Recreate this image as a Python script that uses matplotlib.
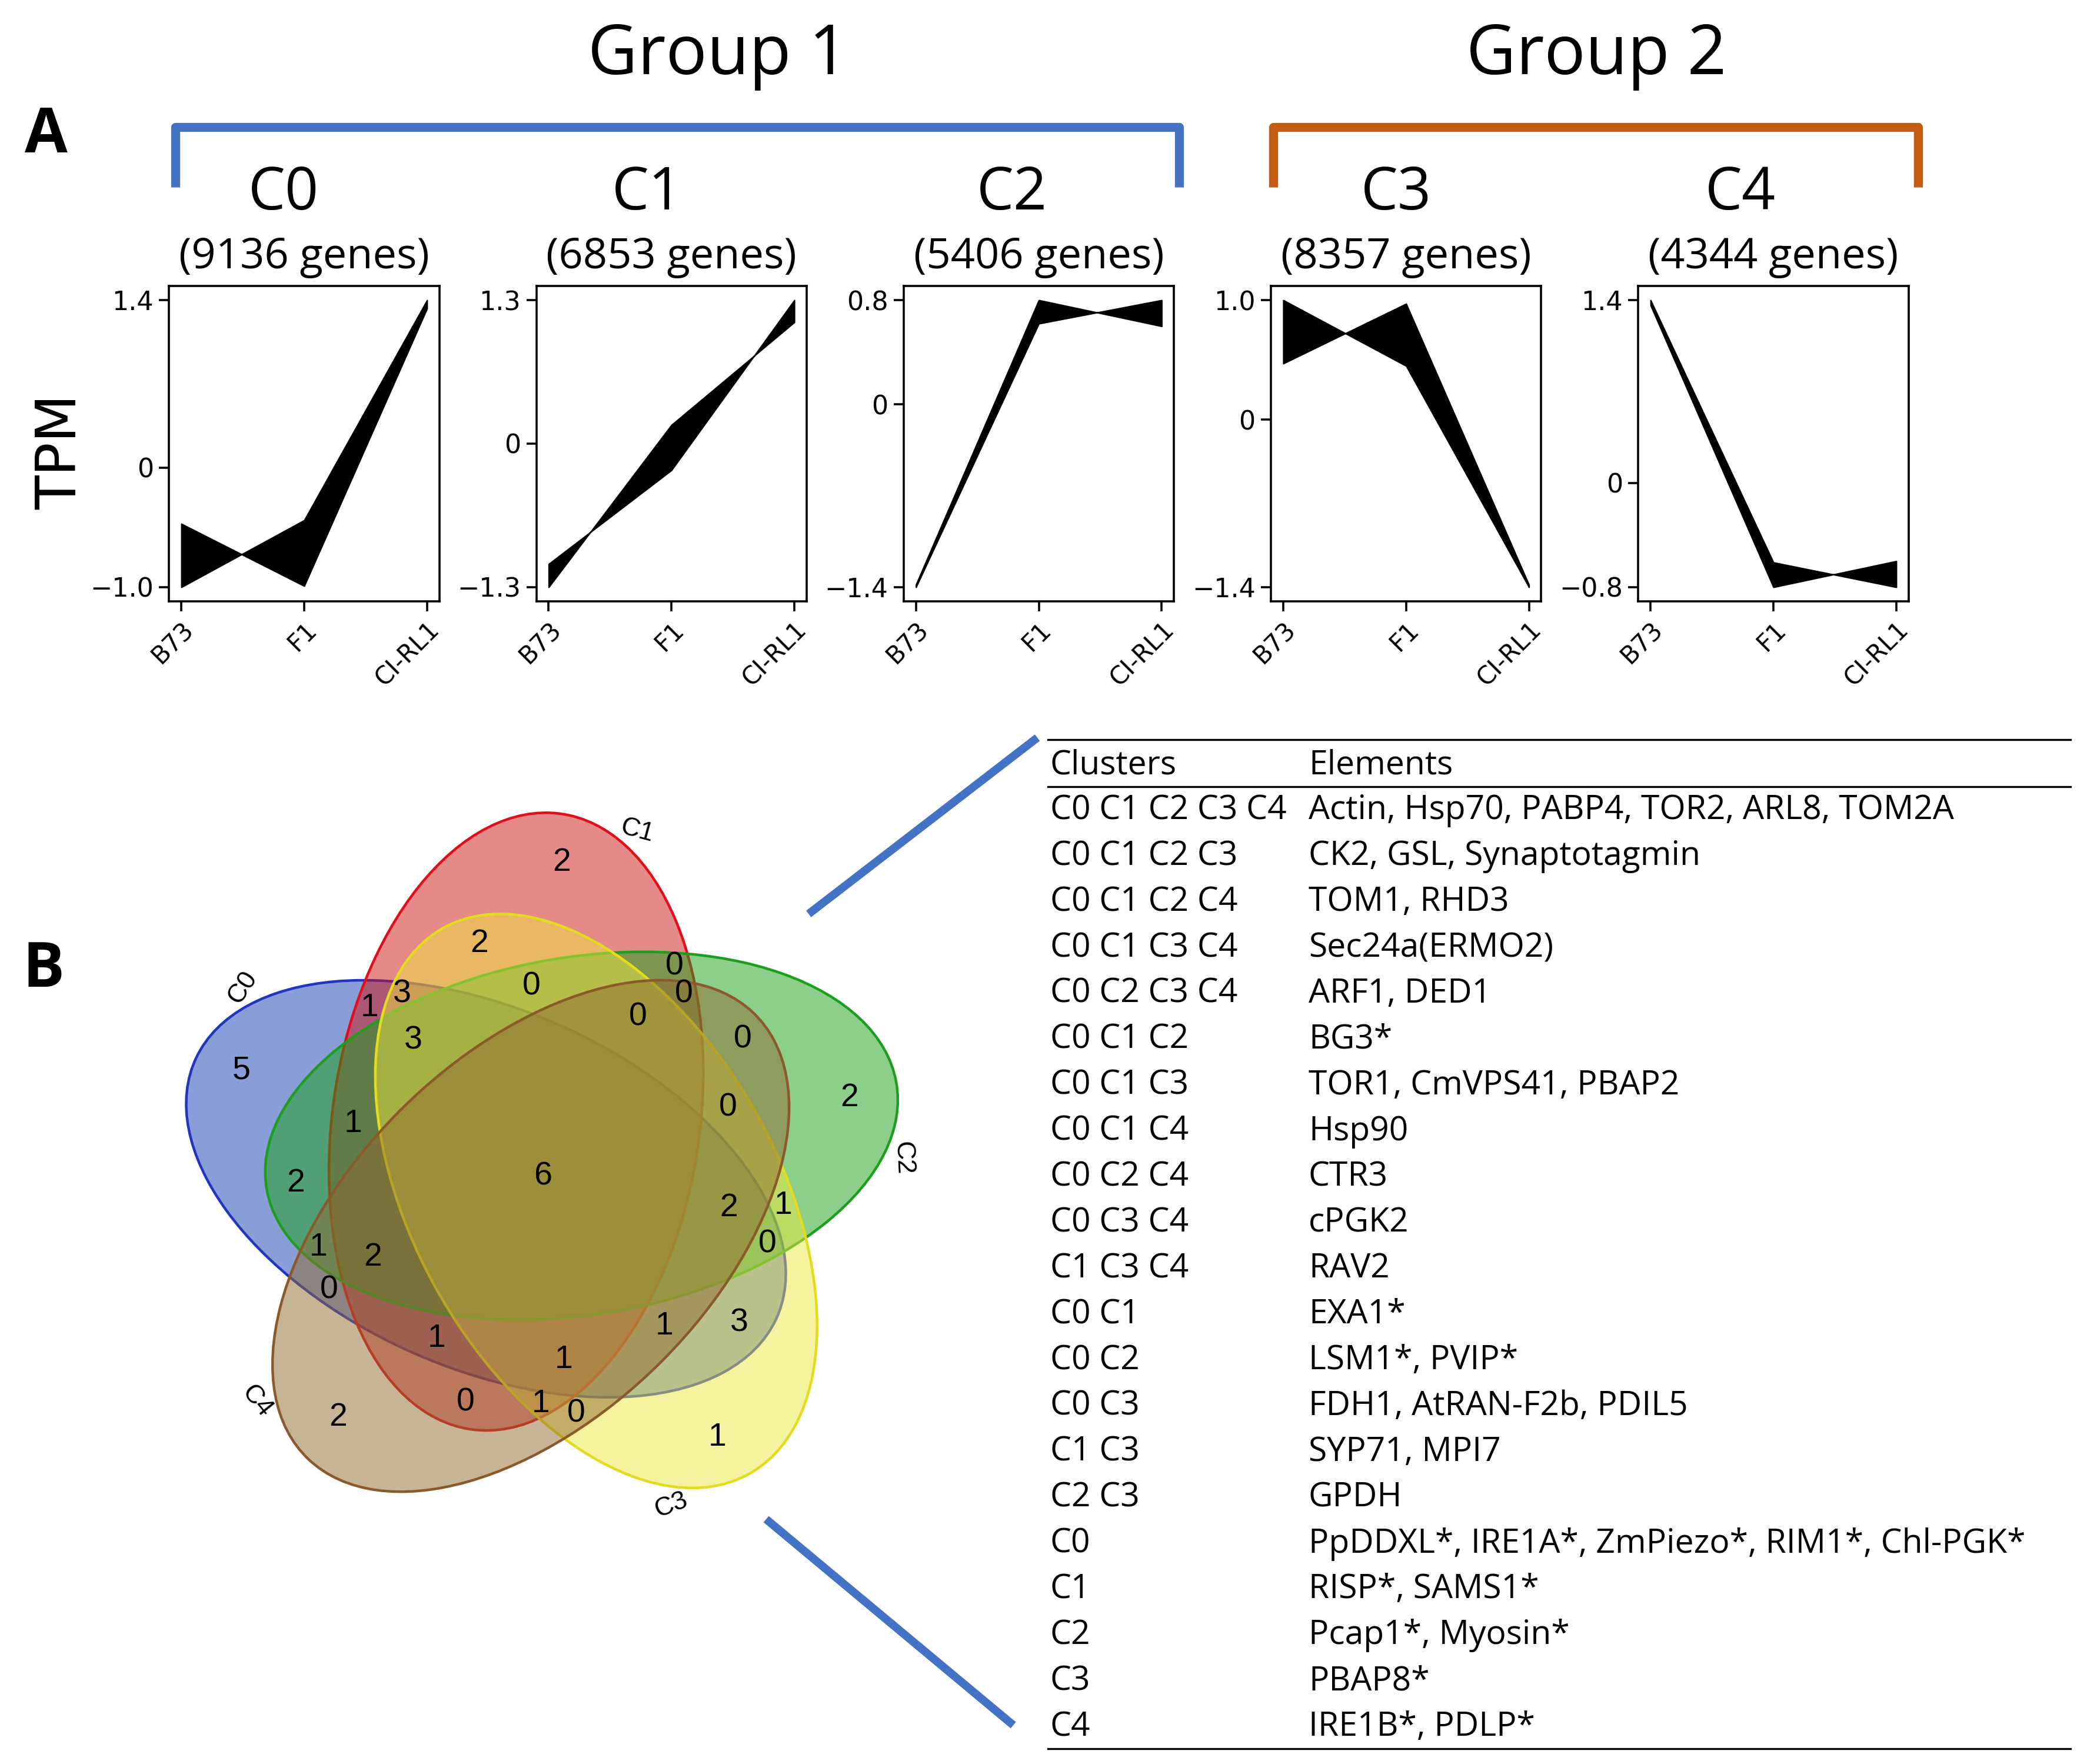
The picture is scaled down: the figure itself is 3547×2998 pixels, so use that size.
import numpy as np
import matplotlib.pyplot as plt
from matplotlib.colors import to_rgba
from matplotlib.patches import Ellipse
from matplotlib.lines import Line2D

# ---- panel A: expression profiles of the five clusters ----
conditions = ['B73', 'F1', 'CI-RL1']
cluster_names = ['C0', 'C1', 'C2', 'C3', 'C4']
cluster_genes = [9136, 6853, 5406, 8357, 4344]
# the black band is drawn between these two edges
band_a = [[-0.47, -0.99, 1.33],
          [-1.09, -0.24, 1.30],
          [-1.38, 0.80, 0.60],
          [1.00, 0.45, -1.40],
          [1.40, -0.61, -0.80]]
band_b = [[-1.00, -0.44, 1.40],
          [-1.30, 0.17, 1.10],
          [-1.40, 0.62, 0.80],
          [0.47, 0.97, -1.38],
          [1.36, -0.80, -0.60]]
ytick_vals = [[-1.0, 0, 1.4], [-1.3, 0, 1.3], [-1.4, 0, 0.8], [-1.4, 0, 1.0], [-0.8, 0, 1.4]]
ytick_labels = [['\u22121.0', '0', '1.4'], ['\u22121.3', '0', '1.3'], ['\u22121.4', '0', '0.8'],
                ['\u22121.4', '0', '1.0'], ['\u22120.8', '0', '1.4']]
group_names = ['Group 1', 'Group 2']

# ---- panel B: shared elements between clusters ----
venn_sets = ['C0', 'C1', 'C2', 'C3', 'C4']
table_clusters = ['C0 C1 C2 C3 C4', 'C0 C1 C2 C3', 'C0 C1 C2 C4', 'C0 C1 C3 C4', 'C0 C2 C3 C4',
                  'C0 C1 C2', 'C0 C1 C3', 'C0 C1 C4', 'C0 C2 C4', 'C0 C3 C4', 'C1 C3 C4',
                  'C0 C1', 'C0 C2', 'C0 C3', 'C1 C3', 'C2 C3',
                  'C0', 'C1', 'C2', 'C3', 'C4']
table_elements = ['Actin, Hsp70, PABP4, TOR2, ARL8, TOM2A',
                  'CK2, GSL, Synaptotagmin',
                  'TOM1, RHD3',
                  'Sec24a(ERMO2)',
                  'ARF1, DED1',
                  'BG3*',
                  'TOR1, CmVPS41, PBAP2',
                  'Hsp90',
                  'CTR3',
                  'cPGK2',
                  'RAV2',
                  'EXA1*',
                  'LSM1*, PVIP*',
                  'FDH1, AtRAN-F2b, PDIL5',
                  'SYP71, MPI7',
                  'GPDH',
                  'PpDDXL*, IRE1A*, ZmPiezo*, RIM1*, Chl-PGK*',
                  'RISP*, SAMS1*',
                  'Pcap1*, Myosin*',
                  'PBAP8*',
                  'IRE1B*, PDLP*']

venn_fill = ['#153DB1', '#CD1515', '#19A119', '#EBE741', '#916B31']
venn_edge = ['#2035C0', '#E0101A', '#1E9E1E', '#E2DC1C', '#8B5A2B']

# ellipse layout of a 5-set Venn
ell_cx = [0.428, 0.469, 0.558, 0.578, 0.489]
ell_cy = [0.449, 0.543, 0.523, 0.432, 0.383]
ell_ang = [155.0, 82.0, 10.0, 118.0, 46.0]
ELL_W, ELL_H = 0.87, 0.50

TXT = 'Open Sans'
BLUE = '#4472C4'
ORANGE = '#C55A11'

fig = plt.figure(figsize=(3547 / 200, 2998 / 200), dpi=200)

# ---------------- panel A ----------------
ax_left = [0.081, 0.257, 0.433, 0.609, 0.785]
ax_w, ax_b, ax_h = 0.1295, 0.659, 0.179
title_x = [0.136, 0.310, 0.485, 0.669, 0.834]

for i, name in enumerate(cluster_names):
    ax = fig.add_axes([ax_left[i], ax_b, ax_w, ax_h])
    x = np.arange(len(conditions))
    ax.fill_between(x, band_a[i], band_b[i], color='black', lw=0.8)
    ax.set_xticks(x)
    ax.set_xticklabels(conditions, rotation=45, ha='right', rotation_mode='anchor', fontsize=15)
    ax.set_yticks(ytick_vals[i])
    ax.set_yticklabels(ytick_labels[i], fontsize=16)
    ax.tick_params(length=6, width=1.3)
    for s in ax.spines.values():
        s.set_linewidth(1.3)
    fig.text(title_x[i], 0.890, name, fontsize=36, family=TXT, ha='center', va='center')
    fig.text(ax_left[i] + ax_w / 2, 0.854, f'({cluster_genes[i]} genes)', fontsize=26,
             family=TXT, ha='center', va='center')

fig.text(0.029, 0.744, 'TPM', rotation=90, fontsize=34, ha='center', va='center')
fig.text(0.022, 0.923, 'A', fontsize=38, weight='bold', family=TXT, ha='center', va='center')
fig.text(0.021, 0.450, 'B', fontsize=38, weight='bold', family=TXT, ha='center', va='center')

# group brackets
brackets = [(0.084, 0.565, BLUE), (0.610, 0.919, ORANGE)]
group_x = [0.344, 0.765]
for (x0, x1, col), gname, gx in zip(brackets, group_names, group_x):
    fig.add_artist(Line2D([x0, x0, x1, x1], [0.894, 0.928, 0.928, 0.894], color=col, lw=5.5,
                          solid_joinstyle='round', solid_capstyle='butt', transform=fig.transFigure))
    fig.text(gx, 0.968, gname, fontsize=42, family=TXT, ha='center', va='center')


# ---------------- panel B: Venn ----------------
def ellipse_field(px, py, k):
    t = np.deg2rad(ell_ang[k])
    dx, dy = px - ell_cx[k], py - ell_cy[k]
    u = dx * np.cos(t) + dy * np.sin(t)
    v = -dx * np.sin(t) + dy * np.cos(t)
    a, b = ELL_W / 2, ELL_H / 2
    f = (u / a) ** 2 + (v / b) ** 2 - 1
    grad = 2 * np.sqrt((u / a ** 2) ** 2 + (v / b ** 2) ** 2) + 1e-9
    return f, np.abs(f) / grad


gx, gy = np.meshgrid(np.linspace(-0.05, 1.05, 700), np.linspace(-0.05, 1.05, 700))
fields = [ellipse_field(gx, gy, k) for k in range(5)]
inside = np.array([f < 0 for f, _ in fields])
margin = np.min([d for _, d in fields], axis=0)
union = inside.any(axis=0)

vax = fig.add_axes([0.0878, 0.1525, 0.3436, 0.3885])
vax.set_xlim(gx[union].min() - 0.005, gx[union].max() + 0.005)
vax.set_ylim(gy[union].min() - 0.005, gy[union].max() + 0.005)
vax.axis('off')

for k in range(5):
    vax.add_patch(Ellipse((ell_cx[k], ell_cy[k]), ELL_W, ELL_H, angle=ell_ang[k],
                          facecolor=to_rgba(venn_fill[k], 0.5), edgecolor=venn_edge[k], lw=1.6))

# counts per region come from the table (regions missing from it are empty)
region_count = {c: len(e.split(', ')) for c, e in zip(table_clusters, table_elements)}
for m in range(1, 32):
    key = ' '.join(venn_sets[k] for k in range(5) if m >> (4 - k) & 1)
    mask = np.ones_like(union)
    for k in range(5):
        mask &= inside[k] if (m >> (4 - k) & 1) else ~inside[k]
    if not mask.any():
        continue
    j = np.argmax(np.where(mask, margin, -1))
    vax.text(gx.flat[j], gy.flat[j], str(region_count.get(key, 0)), fontsize=20,
             family='Liberation Sans', ha='center', va='center')

# set names just outside the outer lobe of each ellipse
vcx, vcy = np.mean(ell_cx), np.mean(ell_cy)
for k in range(5):
    alpha = np.deg2rad(155 - 72 * k - 8)
    ts = np.linspace(0, 0.8, 1600)
    f, _ = ellipse_field(vcx + ts * np.cos(alpha), vcy + ts * np.sin(alpha), k)
    t_edge = ts[np.where(f < 0)[0].max()] + 0.03
    rot = np.rad2deg(alpha) - 90
    if rot < -90:
        rot += 180
    vax.text(vcx + t_edge * np.cos(alpha), vcy + t_edge * np.sin(alpha), venn_sets[k],
             fontsize=16, family='Liberation Sans', rotation=rot, ha='center', va='center')

# ---------------- panel B: table ----------------
tl, tr = 0.502, 0.992
for y in [0.5806, 0.554, 0.0087]:
    fig.add_artist(Line2D([tl, tr], [y, y], color='black', lw=1.2, transform=fig.transFigure))
col_x = [0.5032, 0.627]
fig.text(col_x[0], 0.566, 'Clusters', fontsize=20.5, family=TXT, va='center')
fig.text(col_x[1], 0.566, 'Elements', fontsize=20.5, family=TXT, va='center')
row_top, row_step = 0.5404, 0.02598
for i, (c, e) in enumerate(zip(table_clusters, table_elements)):
    y = row_top - i * row_step
    fig.text(col_x[0], y, c, fontsize=20.5, family=TXT, va='center')
    fig.text(col_x[1], y, e, fontsize=20.5, family=TXT, va='center')

# connectors from the Venn to the table
fig.add_artist(Line2D([0.389, 0.4955], [0.4833, 0.5804], color=BLUE, lw=5, transform=fig.transFigure))
fig.add_artist(Line2D([0.3686, 0.484], [0.1373, 0.0235], color=BLUE, lw=5, transform=fig.transFigure))

fig.savefig('out.png', dpi=200)
